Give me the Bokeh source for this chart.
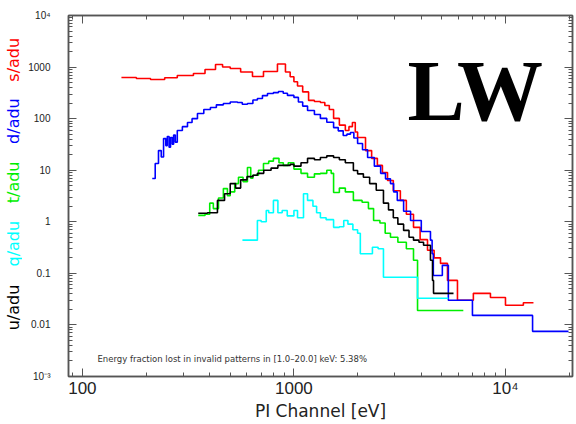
import math
from bokeh.plotting import figure
from bokeh.layouts import row
from bokeh.models import LogAxis, FixedTicker, CustomJSTickFormatter, Label, Range1d
from bokeh.core.properties import value
from bokeh.embed import file_html
from bokeh.resources import INLINE

# ---------------- data ----------------
red_e = [153, 180, 210, 245, 281, 335, 380, 426, 460, 500, 560, 637, 718, 836, 912,
         960, 1000, 1040, 1100, 1173, 1250, 1334, 1400, 1470, 1540, 1640, 1750, 1820, 1890, 1950,
         2000, 2180, 2330, 2480, 2620, 2770, 2950, 3185, 3400, 3675, 3950, 4280, 4600, 4930,
         5320, 5930, 7050, 8490, 10000, 12150, 13560]
red_v = [628, 600, 575, 620, 687, 752, 900, 1120, 1000, 940, 800, 658, 822, 1150, 800,
         650, 520, 430, 330, 226, 215, 206, 180, 150, 101, 75, 59, 70, 84, 55,
         43, 24, 17, 12.4, 9, 6.3, 4.0, 2.6, 1.4, 0.78, 0.45, 0.28, 0.2, 0.156,
         0.073, 0.030, 0.041, 0.034, 0.024, 0.027, 0.027]

blue_e = [214, 221, 229, 236, 242, 248, 252, 257, 261, 266, 270, 275, 281, 297, 314,
          330, 350, 375, 403, 430, 464, 500, 541, 570, 603, 640, 672, 710, 750, 800,
          845, 890, 932, 1000, 1050, 1100, 1160, 1250, 1334, 1430, 1540, 1620, 1710, 1780, 1850,
          1920, 2000, 2110, 2230, 2400, 2570, 2710, 2860, 2960, 3080, 3300, 3560, 4000, 4420, 4500,
          4560, 5030, 5370, 6980, 13430, 19860]
blue_v = [6.9, 13.5, 24, 18, 41, 30, 45, 28, 43, 32, 48, 35, 59, 70, 84,
          100, 126, 150, 165, 185, 197, 210, 206, 190, 197, 230, 245, 280, 307, 320,
          336, 310, 282, 258, 210, 175, 144, 120, 101, 85, 67, 58, 47, 50, 54,
          42, 33, 25, 17.7, 12, 8.7, 6.8, 5.5, 3.8, 2.6, 1.6, 1.06, 0.65, 0.44, 0.24,
          0.091, 0.143, 0.030, 0.0153, 0.0075, 0.0075]

green_e = [353, 380, 400, 416, 440, 464, 485, 500, 525, 547, 575, 603, 625, 640, 680,
           718, 760, 800, 850, 891, 940, 1000, 1080, 1160, 1250, 1334, 1430, 1500, 1540, 1640,
           1750, 1910, 2100, 2250, 2380, 2550, 2700, 2860, 3100, 3400, 3675, 3840, 6320]
green_v = [1.33, 1.4, 2.3, 1.8, 2.9, 4.4, 3.2, 3.8, 5.5, 7.3, 6, 11.3, 7, 8, 10,
           13.5, 15, 17, 14, 12.4, 14, 10.5, 8.7, 7.3, 8.5, 8.7, 10, 8.7, 3.7, 4.5,
           3.8, 2.6, 2.4, 1.8, 1.06, 0.95, 0.6, 0.5, 0.4, 0.3, 0.18, 0.019, 0.019]

cyan_e = [571, 672, 700, 740, 760, 800, 840, 880, 930, 1000, 1040, 1110, 1160, 1230, 1280,
          1334, 1420, 1540, 1640, 1720, 1800, 1900, 2000, 2060, 2200, 2350, 2500, 2650, 3840, 5370]
cyan_v = [0.44, 1.06, 1.0, 1.66, 1.5, 2.6, 1.5, 1.66, 1.3, 1.66, 1.2, 3.5, 2.6, 2.0, 1.5,
          1.2, 1.1, 0.78, 0.8, 1.06, 0.9, 0.7, 0.6, 0.24, 0.24, 0.32, 0.3, 0.084, 0.033, 0.033]

black_e = [353, 390, 435, 470, 500, 530, 560, 600, 640, 672, 720, 780, 840, 891, 960,
           1000, 1080, 1160, 1250, 1334, 1430, 1540, 1640, 1750, 1910, 2000, 2130, 2280, 2450, 2650,
           2800, 2950, 3100, 3300, 3500, 3675, 3900, 4100, 4420, 4520, 4570, 5680]
black_v = [1.46, 1.5, 2.6, 3.5, 5.5, 4.5, 6.5, 7.5, 8, 8.7, 10, 11, 12.4, 12.4, 13,
           12, 14, 17, 16, 17.7, 19, 17.7, 16, 14, 9.9, 8.5, 7.3, 5.5, 4.1, 2.3,
           1.7, 1.2, 0.9, 0.68, 0.5, 0.44, 0.4, 0.35, 0.18, 0.073, 0.041, 0.041]

x_major = [100, 1000, 10000]
x_major_labels = ["100", "1000", "10\u2074"]
y_major = [0.001, 0.01, 0.1, 1, 10, 100, 1000, 10000]
y_major_labels = ["10\u207b\u00b3", "0.01", "0.1", "1", "10", "100", "1000", "10\u2074"]

series_labels = ["s/adu", "d/adu", "t/adu", "q/adu", "u/adu"]
series_colors = ["#ff0000", "#0000ff", "#00ee00", "#00ffff", "#000000"]

x_title = "PI Channel [eV]"
note_text = "Energy fraction lost in invalid patterns in [1.0\u201320.0] keV:  5.38%"
big_text = "LW"

W, H = 576, 424
SIDE_W = 22

# ---------------- narrow side panel carrying the coloured y labels ----------------
side = figure(width=SIDE_W, height=H, x_range=Range1d(0, SIDE_W), y_range=Range1d(0, H),
              output_backend="svg", toolbar_location=None,
              x_axis_location=None, y_axis_location=None,
              min_border=0, min_border_left=0, min_border_right=0,
              min_border_top=0, min_border_bottom=0)
side.grid.visible = False
side.outline_line_color = None
side.background_fill_color = "white"
side.border_fill_color = "white"
label_centre_from_top = [52, 124, 196, 268, 343]
side.text(x=[13] * len(series_labels), y=[H - c for c in label_centre_from_top],
          text=series_labels, text_color=series_colors, angle=math.pi / 2,
          text_font=value("DejaVu Sans"), text_font_size="16px",
          text_align="center", text_baseline="middle")

# ---------------- main figure ----------------
p = figure(width=W - SIDE_W, height=H, x_axis_type="log", y_axis_type="log",
           x_range=Range1d(86, 20740), y_range=Range1d(1e-3, 1e4),
           output_backend="svg", toolbar_location=None,
           min_border_left=68 - SIDE_W, min_border_right=4, min_border_top=15, min_border_bottom=48)
p.grid.visible = False
p.outline_line_color = "#555555"
p.outline_line_width = 1.5
p.background_fill_color = "white"
p.border_fill_color = "white"


def minor_list(lo, hi):
    return [m * 10.0 ** d for d in range(lo, hi) for m in range(2, 10)]


fmt_code = """
for (let i = 0; i < vals.length; i++) {
  if (Math.abs(Math.log10(vals[i]) - Math.log10(tick)) < 1e-6) return labels[i];
}
return "";
"""
x_fmt = CustomJSTickFormatter(args=dict(vals=x_major, labels=x_major_labels), code=fmt_code)
y_fmt = CustomJSTickFormatter(args=dict(vals=y_major, labels=y_major_labels), code=fmt_code)


def style_axis(ax, show_labels, size):
    ax.axis_line_color = "#555555"
    ax.axis_line_width = 1.5
    ax.major_tick_line_color = "#555555"
    ax.minor_tick_line_color = "#555555"
    ax.major_tick_in = 8
    ax.major_tick_out = 0
    ax.minor_tick_in = 4
    ax.minor_tick_out = 0
    ax.major_label_text_font = "Liberation Sans"
    ax.major_label_text_color = "#222222"
    if show_labels:
        ax.major_label_text_font_size = size
    else:
        ax.major_label_text_font_size = "0px"
        ax.major_label_standoff = 0


xa = p.xaxis[0]
xa.ticker = FixedTicker(ticks=x_major, minor_ticks=minor_list(1, 5))
xa.formatter = x_fmt
style_axis(xa, True, "17px")
xa.major_label_standoff = 2
xa.axis_label = x_title
xa.axis_label_text_font = "DejaVu Sans"
xa.axis_label_text_font_size = "17px"
xa.axis_label_text_font_style = "normal"
xa.axis_label_text_color = "#222222"
xa.axis_label_standoff = 0

ya = p.yaxis[0]
ya.ticker = FixedTicker(ticks=y_major, minor_ticks=minor_list(-3, 4))
ya.formatter = y_fmt
style_axis(ya, True, "10px")
ya.major_label_standoff = 18

top = LogAxis(ticker=FixedTicker(ticks=x_major, minor_ticks=minor_list(1, 5)), formatter=x_fmt)
style_axis(top, False, "0px")
p.add_layout(top, "above")
right = LogAxis(ticker=FixedTicker(ticks=y_major, minor_ticks=minor_list(-3, 4)), formatter=y_fmt)
style_axis(right, False, "0px")
p.add_layout(right, "right")

# ---------------- data lines ----------------
for ex, vy, col in [(red_e, red_v, series_colors[0]), (blue_e, blue_v, series_colors[1]),
                    (green_e, green_v, series_colors[2]), (cyan_e, cyan_v, series_colors[3]),
                    (black_e, black_v, series_colors[4])]:
    p.step(ex, vy, mode="after", line_color=col, line_width=1.6)

# ---------------- texts inside the frame (screen units relative to the frame) ----------------
p.add_layout(Label(x=29, y=18, x_units="screen", y_units="screen", text=note_text,
                   text_font="DejaVu Sans", text_font_size="8.5px", text_color="#333333",
                   text_align="left", text_baseline="middle"))

p.add_layout(Label(x=339, y=286, x_units="screen", y_units="screen", text=big_text,
                   text_font="Liberation Serif", text_font_style="bold", text_font_size="86px",
                   text_color="black", text_align="left", text_baseline="alphabetic"))

layout = row(side, p, spacing=0)
open("out.html", "w").write(file_html(layout, INLINE))
